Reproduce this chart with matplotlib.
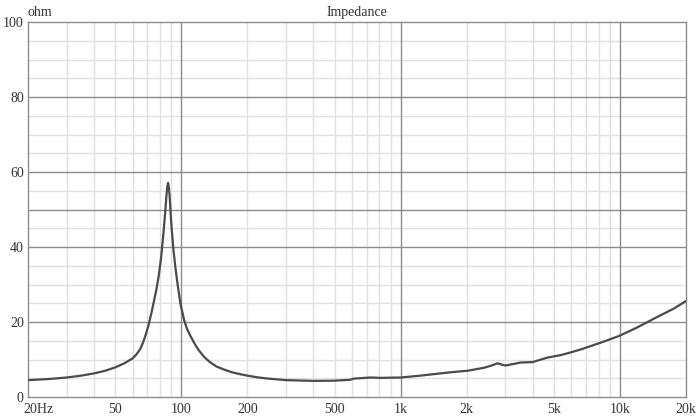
import numpy as np
import matplotlib
matplotlib.use("Agg")
import matplotlib.pyplot as plt
import matplotlib.transforms as mtransforms

# impedance curve
freq = [20, 25, 30, 35, 40, 45, 50, 55, 60, 62.5, 65, 67, 69, 71, 73, 75, 77,
        79, 81, 83, 84.5, 85.5, 86.3, 87, 87.7, 88.5, 89.5, 90.5, 92, 94, 96.2,
        99, 103, 106, 110, 115, 120, 127, 135, 145, 157, 170, 185, 200, 225, 250,
        300, 400, 500, 590, 611, 728, 810, 1000, 1233, 1370, 1693, 2016, 2400,
        2600, 2764, 2900, 3014, 3530, 3990, 4670, 5390, 5970, 6640, 8180, 9930,
        12030, 14840, 17640, 20000]
ohms = [4.5, 4.8, 5.2, 5.7, 6.3, 7.0, 7.9, 9.0, 10.3, 11.4, 12.8, 14.6, 16.8, 19.3,
        22.3, 25.5, 28.7, 32.5, 37.5, 44.0, 49.5, 53.5, 56.0, 57.1, 56.0, 53.5,
        48.5, 44.5, 39.5, 34.5, 30.0, 25.0, 20.5, 18.3, 16.3, 14.2, 12.5, 10.7,
        9.3, 8.1, 7.3, 6.6, 6.1, 5.7, 5.2, 4.9, 4.5, 4.3, 4.35, 4.6, 4.9, 5.2,
        5.1, 5.2, 5.7, 6.0, 6.6, 7.0, 7.8, 8.4, 9.0, 8.6, 8.4, 9.2, 9.3, 10.5,
        11.2, 11.9, 12.7, 14.5, 16.3, 18.6, 21.4, 23.6, 25.6]

xticks = [20, 50, 100, 200, 500, 1000, 2000, 5000, 10000, 20000]
xticklabels = ["20Hz", "50", "100", "200", "500", "1k", "2k", "5k", "10k", "20k"]
yticks = [0, 20, 40, 60, 80, 100]

plt.rcParams['font.family'] = ['Liberation Serif', 'DejaVu Serif']

fig = plt.figure(figsize=(7, 4.17), dpi=100)
ax = fig.add_axes([28 / 700, 20 / 417, 658 / 700, 375 / 417])
ax.set_xscale("log")
ax.set_xlim(20, 20000)
ax.set_ylim(0, 100)

# grid: light every 5 ohm / every 1-2-..-9 step, darker on some lines
dark_y = [20, 40, 50, 60, 80]
for y in range(5, 100, 5):
    if y in dark_y:
        ax.axhline(y, color="#8c8c8c", lw=1.0, zorder=1)
    else:
        ax.axhline(y, color="#e0e0e0", lw=1.0, zorder=0)

for dec in [10, 100, 1000, 10000]:
    for m in range(1, 10):
        f = dec * m
        if f <= 20 or f >= 20000:
            continue
        if m == 1:
            ax.axvline(f, color="#8c8c8c", lw=1.0, zorder=1)
        else:
            ax.axvline(f, color="#e0e0e0", lw=1.0, zorder=0)

ax.plot(freq, ohms, color="#4a4a4a", lw=1.6, zorder=3,
        solid_joinstyle="round", solid_capstyle="round")

ax.set_xticks(xticks)
ax.set_xticklabels(xticklabels)
ax.xaxis.set_minor_locator(matplotlib.ticker.NullLocator())
ax.set_yticks(yticks)
ax.tick_params(length=0, labelsize=10, colors="#333333", pad=4)
ax.tick_params(axis="y", pad=3)

# shift the "20Hz" label so it starts just left of the axis
lbl = ax.get_xticklabels()[0]
lbl.set_horizontalalignment("left")
lbl.set_transform(lbl.get_transform() +
                  mtransforms.ScaledTranslation(-5 / 100, 0, fig.dpi_scale_trans))

for s in ax.spines.values():
    s.set_color("#8c8c8c")
    s.set_linewidth(1.0)

ax.text(0.0, 1.008, "ohm", transform=ax.transAxes, ha="left", va="bottom",
        fontsize=10, color="#333333")
ax.text(0.5, 1.008, "Impedance", transform=ax.transAxes, ha="center", va="bottom",
        fontsize=10, color="#333333")

fig.savefig("out.png", dpi=100)
